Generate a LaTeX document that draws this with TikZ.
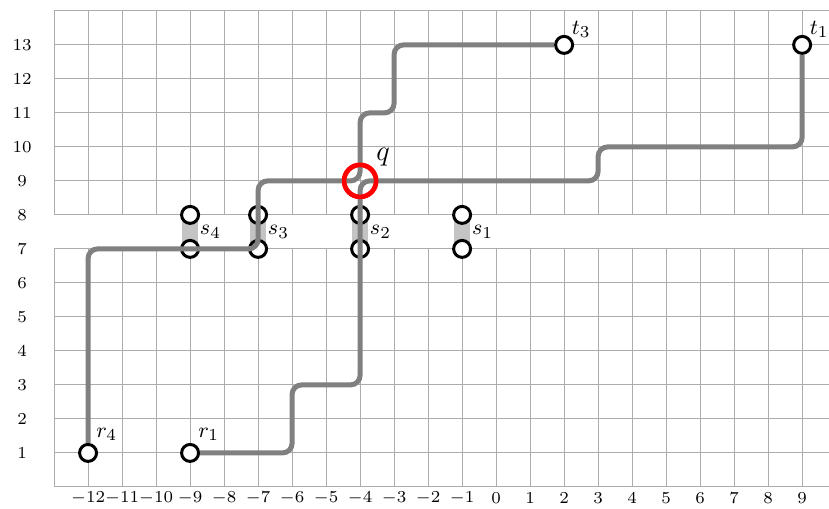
\documentclass[tikz,border=0pt]{standalone}
\begin{document}
\begin{tikzpicture}[x=0.5cm,y=0.5cm,
  gridline/.style={draw=gray!65, line width=0.42pt},
  route/.style={draw=gray, line width=2.1pt, rounded corners=4pt},
  term/.style={circle, draw=black, fill=white, line width=1.25pt, minimum size=7.1pt, inner sep=0pt},
  pairbar/.style={draw=black!23, line width=6.7pt},
  lab/.style={font=\fontsize{9.5}{11}\selectfont, inner sep=0pt},
  axislab/.style={font=\fontsize{7.5}{9}\selectfont, inner sep=0pt},
  qlab/.style={font=\fontsize{13}{15}\selectfont, inner sep=0pt},
  crossmark/.style={circle, draw=red, line width=1.9pt, minimum size=13.4pt, inner sep=0pt}]
\useasboundingbox (-14.59,-0.647) rectangle (9.79,14.32);
% grid
\draw[gridline, step=0.5cm] (-13,0) grid (9.79,7);
\draw[gridline, step=0.5cm] (-13,8) grid (9.79,14);
% axis labels
\foreach \y in {1,...,13} {\node[axislab] (ly\y) at (-13.94,\y) {$\y$};}
\foreach \x in {-12,...,9} {\node[axislab] (lx\x) at (\x,-0.32) {$\x$};}
% pair bars
\foreach \x in {-9,-7,-4,-1} {\draw[pairbar] (\x,7) -- (\x,8);}
% terminals
\node[term] (s4a) at (-9,8) {}; \node[term] (s4b) at (-9,7) {};
\node[term] (s3a) at (-7,8) {}; \node[term] (s3b) at (-7,7) {};
\node[term] (s2a) at (-4,8) {}; \node[term] (s2b) at (-4,7) {};
\node[term] (s1a) at (-1,8) {}; \node[term] (s1b) at (-1,7) {};
\node[term] (r4) at (-12,1) {};
\node[term] (r1) at (-9,1) {};
\node[term] (t3) at (2,13) {};
\node[term] (t1) at (9,13) {};
\node[crossmark] (q) at (-4,9) {};
% labels
\node[lab] (ls4) at (-8.4,7.5) {$s_4$};
\node[lab] (ls3) at (-6.4,7.5) {$s_3$};
\node[lab] (ls2) at (-3.4,7.5) {$s_2$};
\node[lab] (ls1) at (-0.4,7.5) {$s_1$};
\node[lab] (lr4) at (-11.45,1.55) {$r_4$};
\node[lab] (lr1) at (-8.45,1.55) {$r_1$};
\node[lab] (lt3) at (2.5,13.45) {$t_3$};
\node[lab] (lt1) at (9.5,13.45) {$t_1$};
\node[qlab] (lq) at (-3.32,9.71) {$q$};
% routes
\draw[route] (r1) -- (-6,1) -- (-6,3) -- (-4,3) -- (s2b.center) -- (s2a.center) -- (q.center) -- (3,9) -- (3,10) -- (9,10) -- (t1);
\draw[route] (r4) -- (-12,7) -- (s3b.center) -- (s3a.center) -- (-7,9) -- (q.center) -- (-4,11) -- (-3,11) -- (-3,13) -- (t3);
% crossing mark on top
\node[crossmark] at (q.center) {};
\end{tikzpicture}
\end{document}
